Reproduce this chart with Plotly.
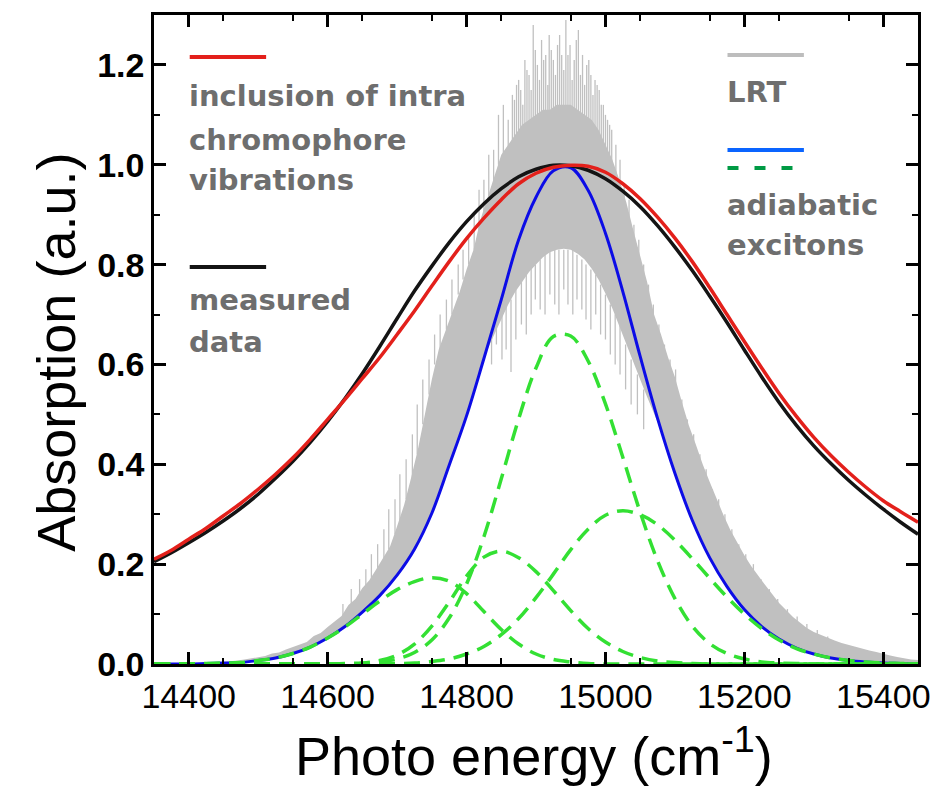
import plotly.graph_objects as go

# Photon energy grid (cm^-1) shared by the smooth curves
energy = list(range(14350, 15451, 25))

# Measured absorption spectrum
measured = [0.205, 0.223, 0.243, 0.264, 0.287, 0.312, 0.340, 0.372, 0.406, 0.444,
            0.486, 0.532, 0.582, 0.636, 0.692, 0.747, 0.797, 0.844, 0.886, 0.922,
            0.952, 0.976, 0.991, 0.999, 0.998, 0.989, 0.972, 0.947, 0.916, 0.878,
            0.835, 0.788, 0.737, 0.684, 0.629, 0.575, 0.524, 0.478, 0.437, 0.401,
            0.368, 0.338, 0.310, 0.284, 0.260]

# Model including intra-chromophore vibrations
intra_vib = [0.210, 0.228, 0.250, 0.272, 0.297, 0.322, 0.350, 0.380, 0.413, 0.450,
             0.490, 0.530, 0.572, 0.614, 0.660, 0.707, 0.757, 0.806, 0.852, 0.893,
             0.930, 0.962, 0.983, 0.995, 0.999, 0.997, 0.985, 0.962, 0.932, 0.895,
             0.853, 0.806, 0.754, 0.700, 0.646, 0.593, 0.542, 0.496, 0.454, 0.417,
             0.384, 0.354, 0.327, 0.305, 0.284]

# Adiabatic exciton spectrum (total)
adiabatic = [0.000, 0.000, 0.000, 0.001, 0.002, 0.003, 0.007, 0.012, 0.021, 0.034,
             0.052, 0.075, 0.104, 0.137, 0.178, 0.230, 0.302, 0.398, 0.497, 0.612,
             0.730, 0.850, 0.935, 0.988, 0.994, 0.949, 0.863, 0.746, 0.616, 0.492,
             0.382, 0.288, 0.213, 0.155, 0.109, 0.075, 0.050, 0.032, 0.020, 0.012,
             0.007, 0.004, 0.002, 0.001, 0.000]

# Individual adiabatic exciton bands
exciton_1 = [0.000, 0.000, 0.000, 0.001, 0.002, 0.003, 0.007, 0.012, 0.021, 0.034,
             0.052, 0.074, 0.100, 0.126, 0.149, 0.165, 0.173, 0.166, 0.141, 0.105,
             0.069, 0.040, 0.020, 0.009, 0.004, 0.001, 0.000, 0.000, 0.000, 0.000,
             0.000, 0.000, 0.000, 0.000, 0.000, 0.000, 0.000, 0.000, 0.000, 0.000,
             0.000, 0.000, 0.000, 0.000, 0.000]
exciton_2 = [0.000, 0.000, 0.000, 0.000, 0.000, 0.000, 0.000, 0.000, 0.000, 0.000,
             0.000, 0.001, 0.002, 0.007, 0.018, 0.040, 0.076, 0.124, 0.176, 0.214,
             0.226, 0.213, 0.185, 0.147, 0.107, 0.071, 0.044, 0.025, 0.013, 0.006,
             0.003, 0.001, 0.000, 0.000, 0.000, 0.000, 0.000, 0.000, 0.000, 0.000,
             0.000, 0.000, 0.000, 0.000, 0.000]
exciton_3 = [0.000, 0.000, 0.000, 0.000, 0.000, 0.000, 0.000, 0.000, 0.000, 0.000,
             0.000, 0.000, 0.001, 0.004, 0.010, 0.023, 0.048, 0.092, 0.160, 0.255,
             0.371, 0.491, 0.593, 0.656, 0.657, 0.607, 0.521, 0.414, 0.304, 0.207,
             0.131, 0.076, 0.041, 0.021, 0.010, 0.004, 0.002, 0.001, 0.000, 0.000,
             0.000, 0.000, 0.000, 0.000, 0.000]
exciton_4 = [0.000, 0.000, 0.000, 0.000, 0.000, 0.000, 0.000, 0.000, 0.000, 0.000,
             0.000, 0.000, 0.000, 0.001, 0.001, 0.002, 0.005, 0.010, 0.020, 0.035,
             0.059, 0.091, 0.133, 0.180, 0.229, 0.270, 0.298, 0.307, 0.299, 0.279,
             0.248, 0.211, 0.172, 0.134, 0.100, 0.071, 0.048, 0.031, 0.020, 0.012,
             0.007, 0.004, 0.002, 0.001, 0.000]

# LRT spectrum: dense part of the noisy signal, lower and upper edge
lrt_energy = list(range(14450, 15451, 10))
lrt_low = [0.002, 0.002, 0.003, 0.003, 0.005, 0.007, 0.009, 0.011, 0.014, 0.017,
           0.021, 0.026, 0.031, 0.038, 0.045, 0.052, 0.061, 0.070, 0.080, 0.092,
           0.104, 0.117, 0.130, 0.145, 0.161, 0.178, 0.198, 0.219, 0.243, 0.270,
           0.302, 0.340, 0.378, 0.418, 0.457, 0.497, 0.542, 0.589, 0.630, 0.660,
           0.690, 0.720, 0.745, 0.765, 0.785, 0.800, 0.815, 0.825, 0.830, 0.832,
           0.830, 0.822, 0.810, 0.792, 0.770, 0.742, 0.712, 0.678, 0.640, 0.605,
           0.570, 0.535, 0.500, 0.468, 0.425, 0.382, 0.343, 0.306, 0.272, 0.241,
           0.213, 0.189, 0.166, 0.145, 0.126, 0.109, 0.095, 0.081, 0.070, 0.060,
           0.050, 0.043, 0.035, 0.029, 0.024, 0.020, 0.016, 0.013, 0.011, 0.009,
           0.007, 0.006, 0.005, 0.004, 0.003, 0.002, 0.001, 0.001, 0.000, 0.000,
           0.000]
lrt_high = [0.004, 0.005, 0.007, 0.009, 0.011, 0.014, 0.016, 0.021, 0.023, 0.029,
            0.034, 0.040, 0.044, 0.056, 0.062, 0.074, 0.085, 0.096, 0.118, 0.130,
            0.152, 0.168, 0.190, 0.212, 0.236, 0.276, 0.318, 0.372, 0.430, 0.500,
            0.570, 0.630, 0.668, 0.710, 0.745, 0.790, 0.830, 0.890, 0.935, 0.975,
            1.020, 1.040, 1.060, 1.080, 1.090, 1.100, 1.110, 1.110, 1.120, 1.120,
            1.120, 1.110, 1.100, 1.090, 1.070, 1.040, 1.010, 0.970, 0.925, 0.870,
            0.820, 0.765, 0.700, 0.660, 0.615, 0.575, 0.525, 0.478, 0.440, 0.400,
            0.365, 0.330, 0.298, 0.268, 0.242, 0.218, 0.196, 0.176, 0.158, 0.140,
            0.122, 0.108, 0.094, 0.083, 0.072, 0.064, 0.058, 0.052, 0.047, 0.042,
            0.038, 0.034, 0.031, 0.027, 0.024, 0.020, 0.017, 0.014, 0.011, 0.009,
            0.008]

# LRT noise spikes: position, lower end, upper end
spike_energy = [14622, 14634, 14646, 14655, 14663, 14672, 14681, 14688, 14697, 14704,
                14713, 14722, 14729, 14737, 14746, 14754, 14762, 14771, 14779, 14788,
                14795, 14803, 14811, 14818, 14825, 14832, 14839, 14846, 14853, 14860,
                14866, 14872, 14878, 14884, 14890, 14896, 14902, 14908, 14914, 14919,
                14925, 14931, 14937, 14943, 14949, 14955, 14961, 14967, 14973, 14979,
                14985, 14991, 14997, 15003, 15009, 15015, 15021, 15027, 15034, 15041,
                15048, 15055, 15062, 15069, 15077, 15085, 15093, 15101, 15110, 15118,
                15127, 15136, 15145, 15154, 15163, 15172, 15182, 15192, 15202, 15213,
                15224, 15236, 15248, 15262, 15276, 15290, 15305, 15320,
                14869, 14875, 14881, 14887, 14893, 14899, 14905, 14911, 14917, 14922,
                14928, 14934, 14940, 14946, 14952, 14958, 14964, 14970, 14976, 14982,
                14988, 14994, 15000, 15006,
                14836, 14843, 14851, 14857, 14864, 14871, 14879, 14886, 14893, 14899,
                14906, 14913, 14920, 14927, 14933, 14940, 14946, 14953, 14959, 14966,
                14972, 14979, 14986, 14993, 15000, 15007, 15014, 15021, 15029, 15037,
                15046, 15055]
spike_low = [0.09, 0.11, 0.13, 0.15, 0.16, 0.18, 0.20, 0.23, 0.26, 0.28,
             0.33, 0.37, 0.42, 0.48, 0.54, 0.60, 0.63, 0.67, 0.70, 0.74,
             0.77, 0.80, 0.83, 0.87, 0.90, 0.93, 0.96, 1.00, 1.01, 1.02,
             1.04, 1.05, 1.06, 1.07, 1.08, 1.08, 1.09, 1.10, 1.10, 1.10,
             1.11, 1.11, 1.11, 1.11, 1.11, 1.11, 1.10, 1.09, 1.09, 1.08,
             1.07, 1.06, 1.03, 1.02, 0.99, 0.97, 0.94, 0.91, 0.87, 0.84,
             0.80, 0.75, 0.71, 0.67, 0.63, 0.60, 0.57, 0.54, 0.50, 0.46,
             0.42, 0.39, 0.35, 0.32, 0.30, 0.27, 0.24, 0.22, 0.20, 0.18,
             0.16, 0.14, 0.12, 0.10, 0.085, 0.07, 0.06, 0.05,
             1.04, 1.05, 1.06, 1.07, 1.08, 1.08, 1.09, 1.10, 1.10, 1.10,
             1.11, 1.11, 1.11, 1.11, 1.11, 1.10, 1.10, 1.09, 1.09, 1.08,
             1.07, 1.05, 1.03, 1.01,
             0.60, 0.64, 0.61, 0.63, 0.585, 0.65, 0.68, 0.66, 0.70, 0.73,
             0.71, 0.70, 0.74, 0.72, 0.70, 0.75, 0.72, 0.70, 0.73, 0.71,
             0.69, 0.67, 0.70, 0.66, 0.65, 0.62, 0.60, 0.58, 0.55, 0.52,
             0.50, 0.47]
spike_high = [0.12, 0.15, 0.17, 0.19, 0.22, 0.24, 0.27, 0.31, 0.33, 0.38,
              0.41, 0.46, 0.52, 0.57, 0.61, 0.66, 0.70, 0.73, 0.77, 0.80,
              0.83, 0.86, 0.90, 0.95, 0.97, 1.02, 1.03, 1.10, 1.12, 1.09,
              1.14, 1.16, 1.15, 1.21, 1.18, 1.28, 1.20, 1.25, 1.22, 1.26,
              1.21, 1.24, 1.22, 1.29, 1.24, 1.21, 1.27, 1.22, 1.20, 1.18,
              1.17, 1.15, 1.12, 1.09, 1.07, 1.04, 1.01, 0.96, 0.93, 0.88,
              0.85, 0.80, 0.76, 0.72, 0.68, 0.64, 0.61, 0.59, 0.53, 0.49,
              0.46, 0.42, 0.39, 0.35, 0.33, 0.30, 0.27, 0.24, 0.22, 0.20,
              0.17, 0.15, 0.13, 0.11, 0.095, 0.08, 0.068, 0.055,
              1.13, 1.17, 1.12, 1.19, 1.15, 1.23, 1.17, 1.21, 1.16, 1.23,
              1.18, 1.26, 1.19, 1.22, 1.17, 1.25, 1.18, 1.16, 1.21, 1.14,
              1.16, 1.12, 1.10, 1.08,
              0.68, 0.68, 0.70, 0.72, 0.73, 0.75, 0.77, 0.78, 0.80, 0.80,
              0.81, 0.82, 0.83, 0.83, 0.83, 0.83, 0.83, 0.83, 0.82, 0.81,
              0.80, 0.79, 0.78, 0.76, 0.74, 0.72, 0.70, 0.68, 0.64, 0.61,
              0.58, 0.55]

# Axis ticks
x_ticks = [14400, 14600, 14800, 15000, 15200, 15400]
y_ticks = [0.0, 0.2, 0.4, 0.6, 0.8, 1.0, 1.2]

GRAY = "#c0c0c0"
GREEN = "#33e033"
BLUE = "#0c0ce6"
RED = "#e3201b"
BLACK = "#141414"
TEXT_GRAY = "#6e6e6e"

fig = go.Figure()

# LRT dense band
fig.add_trace(go.Scatter(
    x=lrt_energy + lrt_energy[::-1],
    y=lrt_high + lrt_low[::-1],
    fill="toself", fillcolor=GRAY, mode="lines",
    line=dict(width=0, color=GRAY), hoverinfo="skip", showlegend=False))

# LRT spikes as vertical segments
sx, sy = [], []
for e, lo, hi in zip(spike_energy, spike_low, spike_high):
    sx += [e, e, None]
    sy += [lo, hi, None]
fig.add_trace(go.Scatter(x=sx, y=sy, mode="lines",
                         line=dict(width=1.3, color=GRAY),
                         hoverinfo="skip", showlegend=False))

# Adiabatic total
fig.add_trace(go.Scatter(x=energy, y=adiabatic, mode="lines",
                         line=dict(color=BLUE, width=3, shape="spline"),
                         showlegend=False))

# Exciton bands (dashed)
for band in (exciton_1, exciton_2, exciton_3, exciton_4):
    fig.add_trace(go.Scatter(x=energy, y=band, mode="lines",
                             line=dict(color=GREEN, width=3.5, dash="16px,9px",
                                       shape="spline"),
                             showlegend=False))

# Measured data and intra-chromophore model
fig.add_trace(go.Scatter(x=energy, y=measured, mode="lines",
                         line=dict(color=BLACK, width=3.5, shape="spline"),
                         showlegend=False))
fig.add_trace(go.Scatter(x=energy, y=intra_vib, mode="lines",
                         line=dict(color=RED, width=3.5, shape="spline"),
                         showlegend=False))

# Plot-area geometry (pixels) used to place the hand-made key
L, R, T, B = 154, 924, 15, 664
W, H = R - L, B - T


def px(x):
    return (x - L) / W


def py(y):
    return (B - y) / H


shapes = [
    dict(type="line", xref="paper", yref="paper", x0=px(190), x1=px(267),
         y0=py(57), y1=py(57), line=dict(color=RED, width=4)),
    dict(type="line", xref="paper", yref="paper", x0=px(190), x1=px(267),
         y0=py(267), y1=py(267), line=dict(color=BLACK, width=4)),
    dict(type="line", xref="paper", yref="paper", x0=px(732), x1=px(809),
         y0=py(55), y1=py(55), line=dict(color="#bdbdbd", width=4)),
    dict(type="line", xref="paper", yref="paper", x0=px(732), x1=px(809),
         y0=py(150), y1=py(150), line=dict(color="#0a64ff", width=4)),
    dict(type="line", xref="paper", yref="paper", x0=px(732), x1=px(798),
         y0=py(168), y1=py(168),
         line=dict(color="#009a44", width=4, dash="11px,16px")),
]

key_font = dict(family="DejaVu Sans", size=29, color=TEXT_GRAY)
key_lines = [
    ("<b>inclusion of intra</b>", 187, 96),
    ("<b>chromophore</b>", 187, 140),
    ("<b>vibrations</b>", 187, 180),
    ("<b>measured</b>", 187, 300),
    ("<b>data</b>", 187, 342),
    ("<b>LRT</b>", 729, 92),
    ("<b>adiabatic</b>", 729, 205),
    ("<b>excitons</b>", 729, 245),
]
annotations = [
    dict(text=t, x=px(x), y=py(y), xref="paper", yref="paper",
         xanchor="left", yanchor="middle", showarrow=False, font=key_font)
    for t, x, y in key_lines
]

title_font = dict(family="Liberation Sans, Arial", size=54, color="black")
annotations.append(dict(text="Absorption (a.u.)", x=px(55), y=py(352),
                        xref="paper", yref="paper", textangle=-90,
                        showarrow=False, font=title_font,
                        xanchor="center", yanchor="middle"))
annotations.append(dict(text="Photo energy (cm<sup>-1</sup>)", x=px(537),
                        y=py(752), xref="paper", yref="paper",
                        showarrow=False, font=title_font,
                        xanchor="center", yanchor="middle"))

axis_common = dict(
    showline=True, linecolor="black", linewidth=2.5, mirror="allticks",
    ticks="inside", ticklen=12, tickwidth=2.5, tickcolor="black",
    showgrid=False, zeroline=False,
)

fig.update_layout(
    width=942, height=789,
    margin=dict(l=L, r=942 - R, t=T, b=789 - B),
    paper_bgcolor="white", plot_bgcolor="white",
    xaxis=dict(range=[14350, 15450], tickvals=x_ticks,
               ticktext=[str(v) for v in x_ticks],
               tickfont=dict(family="Liberation Sans, Arial", size=34,
                             color="black"),
               minor=dict(dtick=100, tick0=14350, ticks="inside", ticklen=6,
                          tickwidth=2, tickcolor="black"),
               **axis_common),
    yaxis=dict(range=[0, 1.3], tickvals=y_ticks,
               ticktext=[f"{v:.1f}" for v in y_ticks],
               tickfont=dict(family="Liberation Sans, Arial", size=34,
                             color="black", weight="bold"),
               minor=dict(dtick=0.1, tick0=0, ticks="inside", ticklen=6,
                          tickwidth=2, tickcolor="black"),
               **axis_common),
    shapes=shapes,
    annotations=annotations,
)

fig.write_html("out.html")
